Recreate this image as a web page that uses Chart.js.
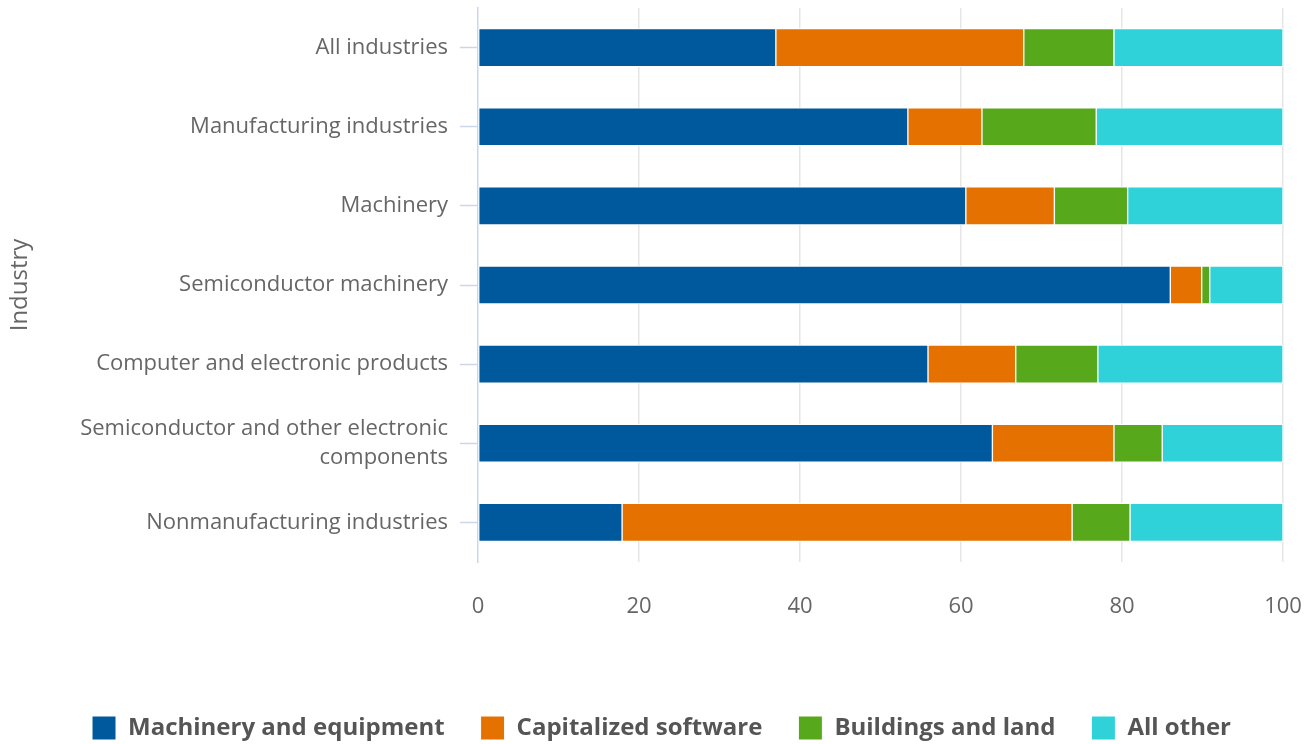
<!DOCTYPE html>
<html>
<head>
<meta charset="utf-8">
<script src="https://cdn.jsdelivr.net/npm/chart.js@4.4.1/dist/chart.umd.min.js"></script>
<style>
  html, body { margin: 0; padding: 0; background: #fff; }
  #wrap { width: 1314px; height: 744px; position: relative; }
</style>
</head>
<body>
<div id="wrap"><canvas id="chart"></canvas></div>
<script>
const categories = [
    'All industries',
    'Manufacturing industries',
    'Machinery',
    'Semiconductor machinery',
    'Computer and electronic products',
    ['Semiconductor and other electronic', 'components'],
    'Nonmanufacturing industries'
];
const machinery = [37.0, 53.4, 60.6, 86.0, 55.9, 63.9, 17.9];
const software  = [30.8, 9.2, 11.0, 3.9, 10.9, 15.1, 55.9];
const buildings = [11.2, 14.2, 9.1, 1.0, 10.2, 6.0, 7.2];
const allOther  = [21.0, 23.2, 19.3, 9.1, 23.0, 15.0, 19.0];
const xTicks = [0, 20, 40, 60, 80, 100];

const seriesNames = ['Machinery and equipment', 'Capitalized software', 'Buildings and land', 'All other'];
const colors = ['#00599c', '#e57200', '#58a81c', '#30d2da'];
const values = [machinery, software, buildings, allOther];

// chart.js adds label overflow padding to the chart area; drop it so the plot fills the frame
const noPad = (scale) => {
    scale.paddingTop = 0;
    scale.paddingBottom = 0;
    scale.paddingLeft = 0;
    scale.paddingRight = 0;
};

// legend row sits centred on the whole page, not on the plot
const shiftLegend = {
    id: 'shiftLegend',
    afterLayout(chart) {
        const lg = chart.legend;
        lg.left += 20;
        lg.right += 20;
        lg.top += 2;
        lg.bottom += 2;
    },
};

const ctx = document.getElementById('chart').getContext('2d');

const myChart = new Chart(ctx, {
    type: 'bar',
    data: {
        labels: categories,
        datasets: values.map((v, i) => ({
            label: seriesNames[i],
            data: v,
            backgroundColor: colors[i],
            borderColor: '#ffffff',
            borderWidth: 1,
            borderSkipped: false,
            barThickness: 38,
        })),
    },
    plugins: [shiftLegend],
    options: {
        indexAxis: 'y',
        responsive: true,
        maintainAspectRatio: false,
        animation: false,
        events: [],
        layout: { padding: { top: 8, right: 31, bottom: -4, left: 0 } },
        plugins: {
            tooltip: { enabled: false },
            legend: {
                position: 'bottom',
                labels: {
                    boxWidth: 24,
                    boxHeight: 24,
                    padding: 36,
                    color: '#555555',
                    font: { family: 'Open Sans', size: 24, weight: 'bold' },
                },
            },
        },
        scales: {
            x: {
                stacked: true,
                min: 0,
                max: 100,
                afterBuildTicks: (scale) => { scale.ticks = xTicks.map(v => ({ value: v })); },
                afterFit: (scale) => { scale.height = 116; noPad(scale); },
                grid: {
                    color: (c) => c.index === 0 ? 'rgba(0,0,0,0)' : '#e6e6e6',
                    lineWidth: 1.5,
                    drawTicks: false,
                },
                border: { display: false },
                ticks: {
                    padding: 32,
                    color: '#666666',
                    font: { family: 'Open Sans', size: 22 },
                },
            },
            y: {
                stacked: true,
                afterFit: (scale) => { scale.width = 478; noPad(scale); },
                grid: {
                    offset: false,
                    drawOnChartArea: false,
                    drawTicks: true,
                    tickLength: 18,
                    tickColor: '#ccd6eb',
                    tickWidth: 1.5,
                },
                border: { display: true, color: '#ccd6eb', width: 1.5 },
                ticks: {
                    padding: 12,
                    color: '#666666',
                    font: { family: 'Open Sans', size: 22, lineHeight: 1.32 },
                },
                title: {
                    display: true,
                    text: 'Industry',
                    color: '#666666',
                    padding: { top: 6, bottom: 0 },
                    font: { family: 'Open Sans', size: 24 },
                },
            },
        },
    },
});
</script>
</body>
</html>
